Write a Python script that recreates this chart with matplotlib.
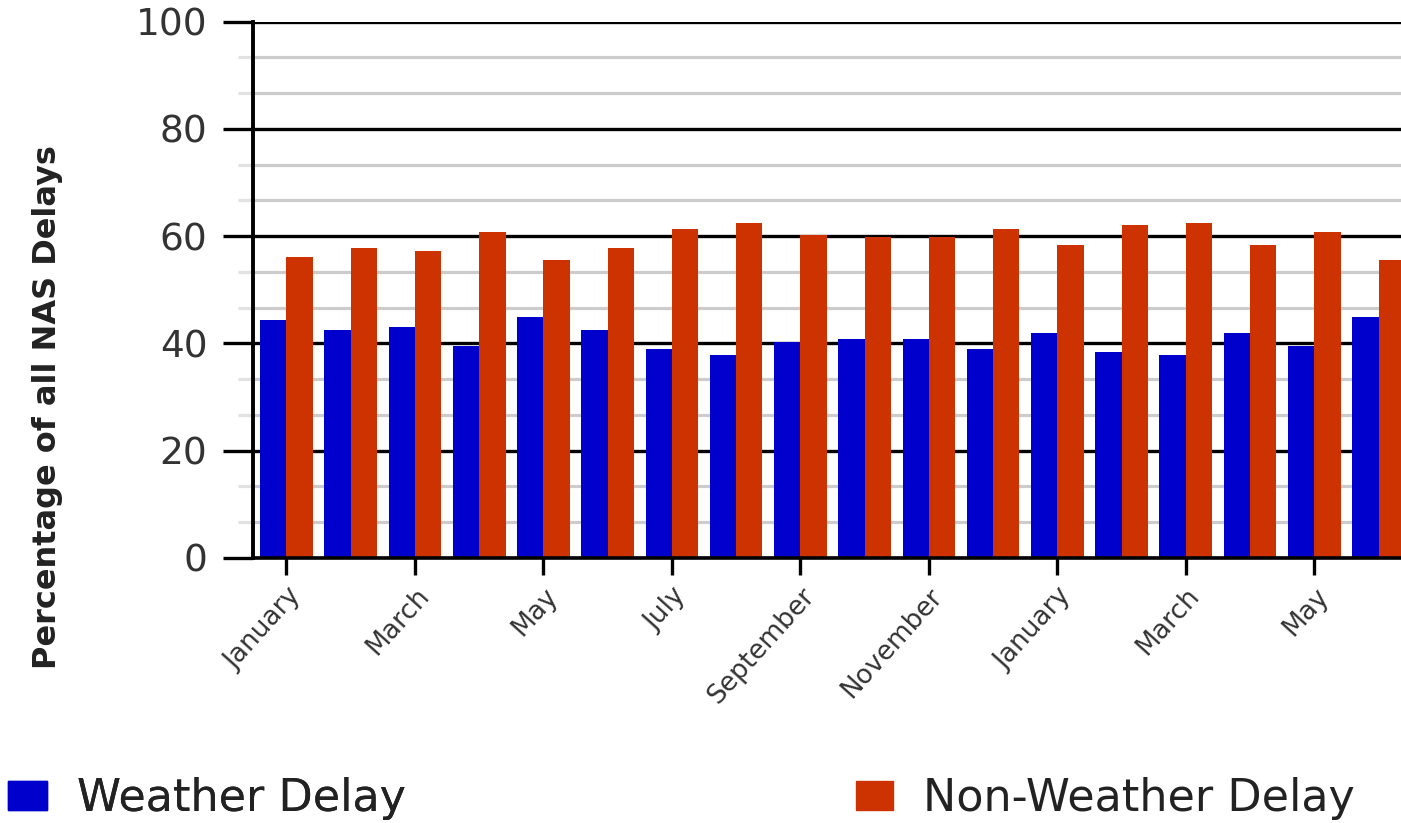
import matplotlib
matplotlib.use("Agg")
import matplotlib.pyplot as plt
from matplotlib.ticker import MultipleLocator, FixedLocator
from matplotlib.patches import Patch
import numpy as np

months = ["January", "February", "March", "April", "May", "June",
          "July", "August", "September", "October", "November", "December",
          "January", "February", "March", "April", "May", "June"]
weather = [44.4, 42.5, 43.1, 39.6, 45.0, 42.5, 39.0, 37.9, 40.3,
           40.9, 40.9, 39.0, 42.0, 38.4, 37.9, 42.0, 39.6, 45.0]
non_weather = [56.2, 57.8, 57.3, 60.8, 55.6, 57.8, 61.4, 62.5, 60.3,
               59.8, 59.8, 61.4, 58.4, 62.0, 62.5, 58.4, 60.8, 55.6]
yticks = [0, 20, 40, 60, 80, 100]
ylabel = "Percentage of all NAS Delays"
series_names = ["Weather Delay", "Non-Weather Delay"]
colors = ["#0000cc", "#cc3300"]

plt.rcParams['font.family'] = ['DejaVu Sans']

W, H = 1401, 823
fig = plt.figure(figsize=(W / 100, H / 100), dpi=100)
ax_left, ax_right, ax_top, ax_bot = 252.7, 1401, 21.7, 558
ax = fig.add_axes([ax_left / W, 1 - ax_bot / H, (ax_right - ax_left) / W, (ax_bot - ax_top) / H])

x = np.arange(len(months))
bw = 0.41
ax.bar(x - bw / 2, weather, width=bw, color=colors[0], zorder=3, linewidth=0)
ax.bar(x + bw / 2, non_weather, width=bw, color=colors[1], zorder=3, linewidth=0)

ax.set_xlim(-0.526, 17.35)
ax.set_ylim(0, 100)

# y axis
ax.yaxis.set_major_locator(FixedLocator(yticks))
ax.yaxis.set_minor_locator(MultipleLocator(20 / 3))
ax.set_yticklabels([str(v) for v in yticks])
ax.tick_params(axis='y', which='major', length=21.6, width=2.4, color='black',
               pad=11, labelsize=27, labelcolor='#333333')
ax.tick_params(axis='y', which='minor', length=10.8, width=2.3, color='#e2e2e2')
ax.grid(True, axis='y', which='major', color='black', linewidth=2.4, zorder=1)
ax.grid(True, axis='y', which='minor', color='#cccccc', linewidth=2.3, zorder=0)
ax.set_axisbelow(True)

# x axis
ax.set_xticks(x[::2])
ax.set_xticklabels(months[::2], rotation=48, ha='right', va='top',
                   rotation_mode='anchor', fontsize=19, color='#333333')
ax.tick_params(axis='x', which='major', length=12, width=2.4, color='black', pad=6)
ax.tick_params(axis='x', which='minor', length=0)

for s in ['top', 'right']:
    ax.spines[s].set_visible(False)
ax.spines['left'].set_linewidth(2.8)
ax.spines['bottom'].set_linewidth(2.6)
ax.spines['left'].set_zorder(4)
ax.spines['bottom'].set_zorder(4)

ax.set_ylabel(ylabel, fontsize=23, fontweight='bold', color='#222222')
ax.yaxis.set_label_coords(-0.165, 0.282)

# legends
leg1 = fig.legend(handles=[Patch(color=colors[0])], labels=[series_names[0]],
                  loc='center left', bbox_to_anchor=(8 / W, 1 - 799 / H),
                  frameon=False, fontsize=32, handlelength=0.87, handleheight=0.62,
                  handletextpad=0.68, borderpad=0, borderaxespad=0)
for t in leg1.get_texts():
    t.set_color('#222222')
leg2 = fig.legend(handles=[Patch(color=colors[1])], labels=[series_names[1]],
                  loc='center left', bbox_to_anchor=(856 / W, 1 - 799 / H),
                  frameon=False, fontsize=32, handlelength=0.83, handleheight=0.62,
                  handletextpad=0.68, borderpad=0, borderaxespad=0)
for t in leg2.get_texts():
    t.set_color('#222222')
fig.add_artist(leg1)

fig.savefig("out.png", dpi=100)
